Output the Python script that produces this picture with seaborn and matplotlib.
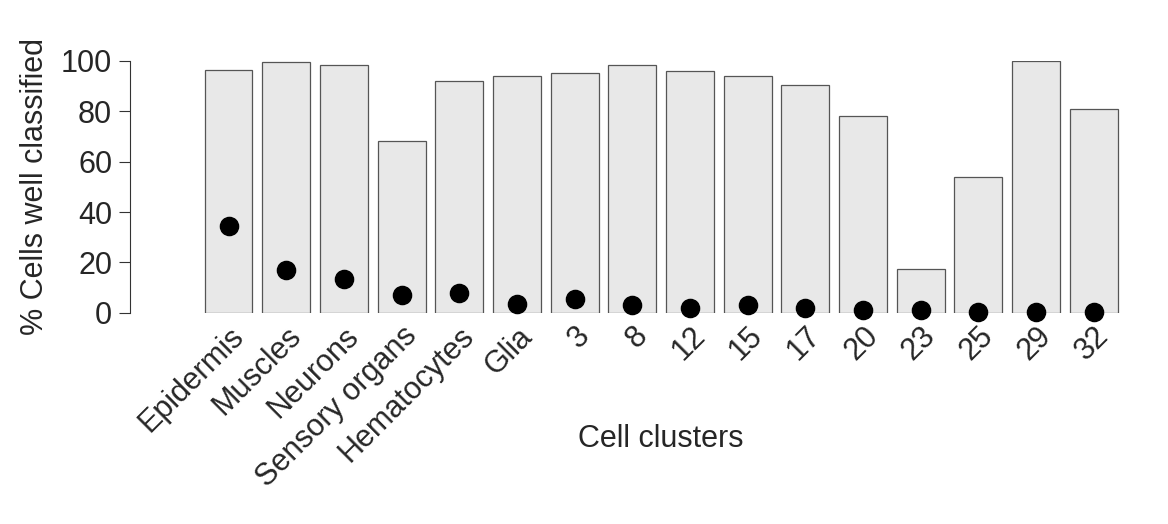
import matplotlib
matplotlib.use("Agg")
import matplotlib.pyplot as plt
import seaborn as sns
import pandas as pd

clusters = ["Epidermis", "Muscles", "Neurons", "Sensory organs", "Hematocytes", "Glia",
            "3", "8", "12", "15", "17", "20", "23", "25", "29", "32"]
well_classified = [96.5, 99.5, 98.5, 68, 92, 94, 95, 98.5, 96, 94, 90.5, 78, 17.5, 54, 100, 81]
random_level = [34.5, 17, 13.5, 7, 8, 3.5, 5.5, 3, 2, 3, 2, 1, 1, 0.5, 0.5, 0.5]

df = pd.DataFrame({"cluster": clusters, "pct": well_classified, "rand": random_level})

sns.set_style("white")
plt.rcParams["font.family"] = ["Liberation Sans", "DejaVu Sans"]

fig = plt.figure(figsize=(11.68, 5.24), dpi=100)
ax = fig.add_axes([0.171, 0.403, 0.790, 0.481])

sns.barplot(data=df, x="cluster", y="pct", color="#e8e8e8", edgecolor="#555555",
            linewidth=0.9, width=0.83, saturation=1, ax=ax)
sns.scatterplot(data=df, x="cluster", y="rand", color="black", s=170, ax=ax,
                zorder=5, clip_on=False, edgecolor="black")

ax.set_xlim(-0.5, 15.5)
ax.set_ylim(0, 100)
for s in ["top", "right", "bottom"]:
    ax.spines[s].set_visible(False)
ax.spines["left"].set_position(("outward", 50))
ax.spines["left"].set_color("#333333")
ax.set_yticks([0, 20, 40, 60, 80, 100])
ax.tick_params(axis="y", labelsize=22, length=8, left=True, color="#333333", pad=5)
ax.tick_params(axis="x", labelsize=22, length=0, pad=6)
plt.setp(ax.get_xticklabels(), rotation=45, ha="right", rotation_mode="anchor")
ax.set_ylabel("% Cells well classified", fontsize=22, labelpad=8)
ax.set_xlabel("Cell clusters", fontsize=22)
ax.xaxis.set_label_coords(0.5, -0.44)

fig.savefig("out.png", dpi=100)
